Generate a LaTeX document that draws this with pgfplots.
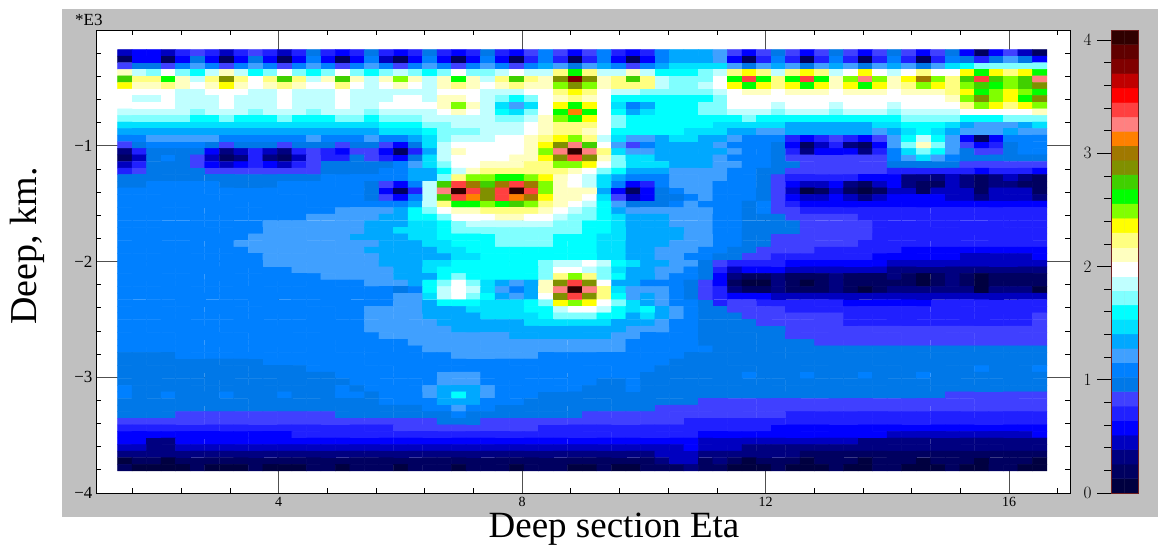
\documentclass[border=0pt]{standalone}
\usepackage{pgfplots}
\usepackage{pgfplotstable}
\usepackage{fontspec}
\setmainfont{Liberation Serif}
\pgfplotsset{compat=1.18}
\definecolor{panel}{RGB}{192,192,192}
\definecolor{gridc}{RGB}{80,80,80}
\definecolor{barb}{RGB}{110,30,30}
\pgfplotsset{colormap={deep}{rgb255=(0,0,64) rgb255=(0,0,96) rgb255=(0,0,128) rgb255=(0,0,192) rgb255=(0,0,255) rgb255=(32,32,255) rgb255=(64,64,255) rgb255=(0,120,232) rgb255=(0,128,255) rgb255=(64,160,255) rgb255=(0,168,255) rgb255=(0,224,255) rgb255=(0,255,255) rgb255=(128,255,255) rgb255=(192,255,255) rgb255=(255,255,255) rgb255=(255,255,192) rgb255=(255,255,128) rgb255=(255,255,0) rgb255=(128,255,0) rgb255=(0,255,0) rgb255=(64,208,0) rgb255=(128,144,0) rgb255=(160,120,0) rgb255=(255,128,0) rgb255=(255,128,128) rgb255=(255,64,64) rgb255=(255,0,0) rgb255=(192,0,0) rgb255=(128,0,0) rgb255=(96,0,0) rgb255=(48,0,0)}}
% one line per depth row, 64 colour levels (0-31) from left to right
\makeatletter
\newtoks\deeptoks
\newcount\rowcnt
\def\rowput#1{\global\deeptoks=\expandafter{\the\deeptoks#1 0\\}\global\advance\rowcnt by 1 }
\def\rowscan#1 {\ifx\relax#1\else\ifnum\rowcnt<64 \rowput{#1}\gdef\rowlast{#1}\fi\expandafter\rowscan\fi}
\def\rowpad{\ifnum\rowcnt<64 \expandafter\rowput\expandafter{\rowlast}\expandafter\rowpad\fi}
\def\rowdata#1{\global\rowcnt=0 \rowscan#1 \relax \rowpad}
\makeatother
\rowdata{3 4 4 3 5 6 5 3 5 6 5 3 5 7 5 4 5 7 5 4 5 7 5 4 5 7 5 4 6 8 6 4 6 8 5 4 5 8 10 10 10 9 6 4 6 7 6 4 6 7 6 4 6 7 6 4 6 7 4 1 4 6 3 1}
\rowdata{1 4 4 1 4 7 4 1 4 7 4 1 4 8 4 1 4 8 3 1 4 8 4 1 4 8 4 1 5 8 5 1 5 8 4 1 4 8 10 10 10 9 4 1 5 8 5 1 5 8 5 1 5 8 5 1 5 8 7 5 7 9 7 4}
\rowdata{6 7 7 6 8 9 8 6 8 9 8 6 8 9 8 6 8 9 8 6 8 9 8 6 8 9 8 6 8 10 9 7 9 10 8 6 8 10 11 11 11 11 9 7 9 10 9 7 9 10 9 7 9 10 9 7 9 11 12 13 13 13 13 13}
\rowdata{16 14 13 15 13 12 14 16 14 12 13 15 13 12 13 15 13 12 13 14 13 12 13 15 13 13 14 15 14 14 17 20 17 14 14 16 14 12 12 12 13 14 17 18 17 14 17 18 17 14 15 18 15 14 15 17 15 15 18 20 18 17 18 20}
\rowdata{21 17 17 20 16 14 17 22 17 15 17 21 17 14 16 21 16 14 16 19 16 14 16 20 16 14 17 21 17 16 22 29 22 16 17 21 17 14 13 13 13 15 20 26 20 17 20 26 20 16 19 25 19 16 18 23 19 17 21 26 21 19 21 25}
\rowdata{18 16 16 17 16 15 16 18 16 15 16 17 16 15 15 17 15 14 15 16 15 14 16 17 16 15 16 17 16 16 19 22 19 16 17 17 17 14 13 13 14 15 18 20 18 17 18 20 18 16 18 20 18 16 17 19 18 17 19 21 20 19 21 22}
\rowdata{15 15 15 15 14 14 15 15 15 14 14 15 14 14 14 15 14 14 14 14 14 14 15 15 15 14 14 14 15 15 17 18 17 15 14 14 13 13 13 13 13 14 15 16 16 15 16 16 16 15 16 16 16 15 16 16 16 17 18 20 19 18 19 20}
\rowdata{15 14 14 15 14 14 14 15 14 14 14 15 14 14 14 15 14 14 14 15 15 14 16 16 15 14 13 12 13 15 16 17 16 15 12 12 12 12 12 12 12 13 15 15 15 15 15 15 15 15 15 15 15 15 15 15 15 16 19 22 19 18 20 22}
\rowdata{15 15 15 15 14 14 14 15 14 14 14 15 14 14 14 15 14 14 15 15 15 15 16 19 16 14 11 9 11 15 18 20 18 15 11 8 10 12 12 12 13 13 15 15 15 14 15 15 15 14 15 15 15 14 15 15 15 15 17 19 18 17 18 19}
\rowdata{14 14 14 14 14 13 14 14 14 13 14 14 14 13 14 14 14 13 14 14 14 14 15 16 15 14 12 11 13 15 20 24 20 15 12 10 11 12 12 12 13 13 14 14 14 13 14 14 14 13 14 14 14 13 14 14 14 14 15 15 15 15 15 16}
\rowdata{13 13 13 13 13 12 12 13 12 12 12 13 12 12 12 13 13 12 13 13 13 14 14 14 14 14 13 13 14 16 19 20 18 15 13 12 12 12 12 12 12 12 12 13 12 12 12 12 12 12 12 12 12 12 13 13 13 13 12 12 12 13 13 13}
\rowdata{11 11 11 11 11 11 11 11 11 11 11 11 11 11 11 11 11 11 12 12 12 13 13 14 14 14 14 14 15 16 17 17 17 15 13 12 12 12 12 12 12 11 11 11 11 11 10 10 10 10 10 10 11 11 12 12 12 11 10 9 9 9 10 11}
\rowdata{10 10 10 10 10 10 10 10 10 10 10 10 10 10 10 10 10 10 11 11 11 12 13 13 13 14 14 14 15 16 17 17 16 15 12 12 12 12 12 11 11 11 10 10 9 9 10 10 10 10 10 10 9 10 11 12 11 10 9 9 9 10 9 9}
\rowdata{8 8 9 9 9 9 9 8 8 8 8 8 8 9 8 8 8 9 8 8 10 11 13 14 14 14 15 15 16 17 18 19 17 14 11 9 9 10 11 11 10 10 9 8 8 8 5 4 5 6 5 4 6 9 12 14 12 9 4 1 4 8 8 8}
\rowdata{6 7 8 8 8 8 7 6 7 7 7 6 7 7 7 6 7 7 6 4 7 11 14 15 15 15 15 15 16 18 22 25 21 15 9 6 8 10 10 10 10 9 8 8 8 7 4 1 3 5 2 1 4 9 13 16 13 9 6 4 5 7 8 8}
\rowdata{2 5 7 7 7 7 4 2 3 5 3 2 5 6 5 4 6 6 4 1 5 10 14 16 15 15 15 15 16 19 25 31 25 17 11 9 9 10 10 10 10 10 9 8 8 7 5 2 4 4 4 2 5 8 11 13 12 9 7 6 6 7 8 8}
\rowdata{1 3 7 8 7 6 3 1 2 5 2 1 3 6 5 5 7 6 5 4 7 11 14 15 15 15 15 16 16 18 22 26 22 16 13 11 11 10 10 10 10 9 8 8 8 7 6 6 6 6 6 6 6 8 9 11 9 8 7 7 7 7 7 7}
\rowdata{3 5 7 7 7 6 4 3 4 5 4 3 5 6 7 7 7 7 7 8 9 11 13 15 15 16 16 16 17 17 19 19 18 15 13 11 11 11 10 10 10 9 9 8 8 7 7 6 6 6 6 6 6 7 7 7 7 7 6 6 6 6 6 6}
\rowdata{5 6 7 7 7 7 6 6 6 6 6 6 6 6 7 7 7 7 8 8 10 10 12 14 16 17 17 17 17 17 17 16 15 13 12 10 10 10 9 9 9 9 8 8 7 7 6 6 6 6 6 6 6 5 5 5 5 5 5 4 5 5 5 4}
\rowdata{7 7 7 7 7 7 7 7 7 7 7 7 7 7 8 8 8 8 8 8 10 10 13 17 19 19 20 20 19 18 16 15 14 11 10 8 8 8 9 9 9 9 8 8 7 6 5 5 5 5 5 4 4 4 2 2 2 3 2 1 2 3 2 1}
\rowdata{7 7 8 8 8 8 8 7 7 7 7 8 8 8 8 8 8 7 6 4 8 14 21 26 23 21 23 26 23 19 16 15 14 11 8 4 5 8 9 9 9 8 8 8 7 6 4 3 3 4 2 1 3 4 2 1 1 3 2 1 2 2 1 1}
\rowdata{8 8 8 8 8 8 8 8 8 8 8 8 8 8 8 8 8 7 4 1 5 14 25 31 26 22 26 31 26 19 16 16 16 10 4 1 4 7 8 9 9 8 8 8 7 6 3 0 1 3 1 0 1 3 3 1 3 3 3 1 3 3 3 1}
\rowdata{8 8 8 8 8 8 8 8 8 8 8 8 8 8 8 8 8 7 6 4 8 14 21 26 24 22 26 24 23 18 16 16 15 11 6 3 4 7 7 8 9 8 8 8 7 6 4 3 3 4 3 2 3 4 4 4 4 3 3 2 3 3 3 2}
\rowdata{8 8 8 8 8 8 8 8 8 8 8 8 8 8 8 8 8 8 8 8 10 14 17 20 20 19 20 21 19 17 16 15 14 12 9 7 7 7 8 9 8 8 8 7 8 6 5 4 4 4 4 4 4 4 4 4 4 4 4 4 4 4 4 4}
\rowdata{8 8 8 8 8 8 8 8 8 8 8 8 8 8 8 9 9 9 9 10 12 13 15 16 16 17 17 17 17 16 15 14 13 12 10 9 9 9 9 9 9 8 8 7 8 6 6 5 5 5 5 5 5 5 5 5 5 5 5 5 5 5 5 5}
\rowdata{8 8 8 8 8 8 8 8 8 8 8 8 8 9 9 9 9 9 10 10 12 12 13 15 15 15 16 16 15 15 14 13 13 12 11 10 10 10 9 9 9 8 8 7 7 7 6 6 6 6 6 5 5 5 5 5 5 5 5 5 5 5 5 5}
\rowdata{8 8 8 8 8 8 8 8 8 8 9 9 9 9 9 9 9 10 10 10 11 11 12 13 14 14 14 14 14 14 13 13 12 12 11 10 10 10 9 9 9 8 8 7 7 7 7 6 6 6 6 6 5 5 5 5 5 5 5 5 5 5 5 5}
\rowdata{8 8 8 8 8 8 8 8 8 8 9 9 9 9 9 9 9 10 10 11 11 11 12 13 13 13 13 13 13 13 13 13 12 12 11 10 10 10 10 9 9 8 8 7 7 7 7 6 6 6 6 6 5 5 5 5 5 5 5 5 5 5 5 5}
\rowdata{8 8 8 8 8 8 8 8 8 9 9 9 9 9 9 9 10 10 10 10 11 11 12 12 12 12 13 13 13 13 12 12 12 11 11 10 10 10 10 9 9 8 8 7 7 6 6 6 6 6 6 6 5 5 5 5 5 5 5 5 5 5 5 5}
\rowdata{8 8 8 8 8 8 8 8 9 9 9 9 9 9 9 9 9 9 10 10 10 11 11 12 12 12 13 13 13 13 12 12 12 11 11 10 10 10 9 9 9 8 8 7 7 6 6 6 6 6 6 5 5 5 5 5 5 5 5 5 5 5 5 5}
\rowdata{8 8 8 8 8 8 8 8 8 9 9 9 9 9 9 9 9 10 10 10 10 10 11 11 12 12 12 12 12 12 12 12 12 11 11 10 10 9 9 9 8 8 7 7 6 6 6 6 5 5 5 5 5 5 4 4 4 4 4 4 4 4 4 4}
\rowdata{8 8 8 8 8 8 8 8 8 8 9 9 9 9 9 9 9 9 10 10 10 10 10 11 11 12 12 12 12 12 12 12 12 11 11 10 10 9 9 8 8 7 7 6 6 5 5 5 5 5 5 5 4 4 4 4 4 4 3 3 3 3 3 4}
\rowdata{8 8 8 8 8 8 8 8 8 8 9 9 9 9 9 9 9 9 10 10 10 11 11 12 12 12 12 12 12 13 14 14 15 14 12 11 10 10 9 9 7 6 5 5 5 5 4 4 4 4 4 4 4 3 3 3 3 3 3 3 3 3 3 3}
\rowdata{8 8 8 8 8 8 8 8 8 8 8 8 9 9 9 9 9 9 9 10 10 11 12 12 12 12 12 12 12 13 15 15 14 13 11 10 10 9 9 8 7 5 3 4 4 4 3 3 3 3 3 3 3 2 2 2 2 2 2 2 2 2 2 2}
\rowdata{8 8 8 8 8 8 8 8 8 8 8 8 8 8 9 9 9 9 9 10 10 10 12 13 12 12 12 12 12 13 17 19 17 13 12 10 10 9 8 8 7 4 2 1 1 2 1 1 1 2 1 1 1 2 1 0 1 2 1 0 1 1 1 1}
\rowdata{8 8 8 8 8 8 8 8 8 8 8 8 8 8 8 8 8 9 9 9 10 12 13 15 13 11 10 9 10 16 22 26 22 15 10 10 8 8 8 7 6 4 1 0 0 2 1 0 1 2 1 1 1 1 1 0 1 2 1 0 1 1 1 1}
\rowdata{8 8 8 8 8 8 8 8 8 8 8 8 8 8 8 8 8 8 8 7 8 12 14 15 14 11 9 8 10 16 25 31 25 17 11 9 9 9 8 7 6 5 2 1 1 2 1 1 1 2 1 0 1 2 2 2 2 2 2 0 2 2 2 0}
\rowdata{8 8 8 8 8 8 8 8 8 8 8 8 8 8 8 8 8 8 8 9 9 11 14 15 13 12 10 9 10 15 22 26 22 17 12 9 10 9 8 7 6 5 4 4 4 3 3 3 3 3 3 3 3 3 3 3 3 3 3 3 3 3 3 3}
\rowdata{8 8 8 8 8 8 8 8 8 8 8 8 8 8 8 8 8 8 8 9 9 10 12 12 12 11 11 11 12 13 18 19 18 15 13 11 10 9 8 8 7 5 6 6 5 5 5 5 5 5 4 4 4 4 4 4 5 5 5 5 5 5 5 5}
\rowdata{8 8 8 8 8 8 8 8 8 8 8 8 8 8 8 8 8 9 9 9 9 10 10 10 11 11 11 11 12 12 14 15 15 14 12 11 12 10 9 8 7 7 6 6 6 6 5 5 5 5 5 5 5 5 5 5 5 5 5 5 5 5 5 5}
\rowdata{8 8 8 8 8 8 8 8 8 8 8 8 8 8 8 8 8 9 9 9 9 10 10 10 10 11 11 11 11 12 13 13 13 12 12 10 11 10 9 8 7 7 7 6 6 6 6 6 6 6 5 5 5 5 5 5 5 5 5 5 5 5 5 6}
\rowdata{8 8 8 8 8 8 8 8 8 8 8 8 8 8 8 8 8 9 9 9 9 9 10 10 10 10 10 10 11 11 11 11 11 11 10 10 10 9 8 8 7 7 7 7 6 6 6 6 6 6 5 5 5 5 5 5 5 5 5 5 5 5 5 6}
\rowdata{8 8 8 8 8 8 8 8 8 8 8 8 8 8 8 8 8 9 9 9 9 9 9 10 10 10 10 10 10 10 10 10 10 10 10 9 9 9 8 8 7 7 7 7 7 7 6 6 6 6 6 6 6 6 6 6 6 6 6 6 6 6 6 6}
\rowdata{8 8 8 8 8 8 8 8 8 8 8 8 8 8 8 8 8 8 9 9 9 9 9 9 9 9 9 10 10 10 10 10 10 10 9 9 8 8 8 8 7 7 7 7 7 7 6 6 6 6 6 6 6 6 6 6 6 6 6 6 6 6 6 6}
\rowdata{8 8 8 8 8 8 8 8 8 8 8 8 8 8 8 8 8 8 8 8 9 9 9 9 9 9 9 9 9 9 9 9 9 9 9 8 8 8 8 8 7 7 7 7 7 7 7 7 6 6 6 6 6 6 6 6 6 6 6 6 6 6 6 6}
\rowdata{8 8 8 8 8 8 8 8 8 8 8 8 8 8 8 8 8 8 8 8 8 9 9 9 9 9 9 9 9 9 9 9 9 9 9 8 8 8 8 8 8 7 7 7 7 7 7 7 7 7 7 7 7 7 7 7 7 7 7 7 7 7 7 7}
\rowdata{7 7 7 7 8 8 8 8 8 8 8 8 8 8 8 8 8 8 8 8 8 8 8 9 9 9 9 9 9 8 8 8 8 8 8 8 8 8 8 7 7 7 7 7 7 7 7 7 7 7 7 7 7 7 7 7 7 7 7 7 7 7 7 7}
\rowdata{7 7 7 7 7 7 7 7 7 7 8 8 8 8 8 8 8 8 8 8 8 8 8 8 8 8 8 8 8 8 8 8 8 8 8 8 8 8 7 7 7 7 7 7 7 7 7 7 7 7 7 7 7 7 7 7 7 7 7 7 7 7 7 7}
\rowdata{7 7 7 7 7 7 7 7 7 7 7 7 7 8 8 8 8 8 8 8 8 8 8 8 8 8 8 8 8 8 8 8 8 8 8 8 8 7 7 7 7 7 7 7 7 7 7 7 7 7 7 7 7 7 7 7 7 7 7 8 7 7 7 8}
\rowdata{7 7 7 7 7 7 7 7 7 7 7 7 7 7 7 8 8 8 8 8 8 8 9 9 9 8 8 8 8 8 8 8 8 8 8 8 7 7 7 7 7 7 7 8 7 7 7 8 7 7 7 8 7 7 7 8 7 7 7 7 7 7 7 7}
\rowdata{7 7 7 7 7 7 7 7 7 7 7 7 7 7 7 7 8 8 8 8 8 8 9 9 9 8 8 8 8 8 8 8 8 7 7 8 7 7 7 7 7 7 7 7 7 7 7 7 7 7 7 7 7 7 7 7 7 7 7 7 7 7 7 7}
\rowdata{8 7 7 7 7 7 7 7 7 7 7 7 7 7 7 8 7 8 8 8 8 9 10 10 10 9 8 8 8 8 8 8 7 7 7 8 7 7 7 7 7 7 7 7 7 7 7 7 7 7 7 7 7 7 7 7 7 7 7 7 7 7 7 7}
\rowdata{8 7 7 8 7 7 7 8 7 7 7 8 7 7 7 8 8 7 8 8 8 9 10 12 10 9 8 8 8 7 7 7 7 7 7 7 7 7 7 7 7 7 7 7 7 7 7 7 7 7 7 7 7 7 7 7 7 6 6 6 6 6 6 6}
\rowdata{7 7 7 7 7 7 7 7 7 7 7 7 7 7 7 7 7 7 8 8 8 8 10 10 10 8 8 8 7 7 7 7 7 7 7 7 7 7 7 7 6 6 6 6 6 6 6 6 6 6 6 6 6 6 6 6 6 6 6 6 6 6 6 6}
\rowdata{7 7 7 7 7 7 7 7 7 7 7 7 7 7 7 7 7 7 7 7 7 8 8 9 8 8 7 7 7 7 7 7 7 7 7 7 7 6 6 6 6 6 6 6 6 6 6 6 6 6 6 6 6 6 6 6 6 6 6 6 6 6 6 6}
\rowdata{7 7 7 7 6 6 6 6 6 6 6 6 6 6 6 7 7 7 7 7 7 7 7 8 7 7 7 7 7 7 7 7 6 6 6 6 6 6 6 6 6 6 6 6 6 6 5 5 5 5 5 5 5 5 5 5 5 5 5 5 5 5 5 5}
\rowdata{6 6 6 6 6 6 6 6 6 6 6 6 6 6 6 6 6 6 6 6 6 6 7 7 7 6 6 6 6 6 6 6 6 6 6 6 6 6 6 5 5 5 5 5 5 5 5 5 5 5 5 5 5 5 5 5 5 5 5 5 5 5 5 5}
\rowdata{5 5 5 5 5 5 5 5 5 5 5 5 5 5 5 5 5 5 5 6 6 6 6 6 6 6 6 6 6 5 5 5 5 5 5 5 5 5 5 5 5 5 5 5 5 4 4 4 4 4 4 4 4 4 4 4 4 4 4 4 4 4 4 4}
\rowdata{4 4 4 4 4 4 4 4 4 4 4 4 5 5 5 5 5 5 5 5 5 5 5 5 5 5 5 5 5 5 5 5 5 5 5 5 5 5 5 5 4 4 4 4 4 4 4 4 4 4 4 4 4 3 3 3 3 3 3 3 3 3 3 4}
\rowdata{4 4 2 2 4 4 4 4 4 4 4 4 4 4 4 4 4 4 4 4 4 4 4 4 4 4 4 4 4 4 4 4 4 4 4 4 4 4 4 4 3 3 3 3 3 3 3 3 3 3 3 2 2 2 2 2 2 2 2 2 2 2 2 2}
\rowdata{3 3 2 2 3 3 3 3 3 3 3 3 3 3 3 3 3 3 3 3 3 3 3 3 3 3 3 3 3 3 3 3 3 3 3 3 3 3 3 4 3 3 3 2 2 2 2 2 2 2 2 2 2 2 2 2 2 2 2 2 2 2 2 2}
\rowdata{2 2 2 2 2 2 2 2 2 2 2 2 2 2 2 2 2 2 2 2 2 2 2 2 2 2 2 2 2 2 2 2 2 2 2 2 2 3 3 3 2 2 2 2 2 2 2 1 1 1 1 1 1 1 1 1 1 1 1 1 1 1 1 1}
\rowdata{0 1 1 0 1 1 1 1 1 1 1 1 1 1 1 1 1 1 1 1 1 1 1 1 1 1 1 1 1 1 1 1 1 1 1 1 1 2 3 3 1 2 1 0 1 1 1 0 1 1 1 0 1 1 1 0 1 1 1 0 1 1 1 0}
\rowdata{1 0 0 0 0 1 0 0 0 1 0 0 0 1 1 0 1 1 1 0 1 1 1 0 1 1 1 0 1 1 1 0 0 1 0 0 1 1 1 2 1 1 0 0 0 1 0 0 0 1 0 0 1 1 0 0 0 1 0 0 1 1 0 0}
\edef\deepread{\noexpand\pgfplotstableread[row sep=crcr]{z d\noexpand\\\the\deeptoks}\noexpand\deeptab}
\deepread
\begin{document}
\begin{tikzpicture}[x=1pt,y=1pt]
\path[use as bounding box] (0,0) rectangle (1158,-547);
\fill[panel] (62,-9) rectangle (1158,-517);
\begin{axis}[at={(96pt,-493pt)},anchor=south west,width=974pt,height=463pt,scale only axis,
 xmin=1,xmax=17,ymin=-4,ymax=0,
 axis background/.style={fill=white},
 colormap name=deep,colormap access=piecewise constant,point meta min=0,point meta max=4.09,
 xtick={4,8,12,16},xticklabels={4,8,12,16},
 ytick={-4,-3,-2,-1},yticklabels={−4,−3,−2,−1},
 minor xtick={1.6,2.4,3.2,4.8,5.6,6.4,7.2,8.8,9.6,10.4,11.2,12.8,13.6,14.4,15.2,16.8},
 minor ytick={-3.8,-3.6,-3.4,-3.2,-2.8,-2.6,-2.4,-2.2,-1.8,-1.6,-1.4,-1.2,-0.8,-0.6,-0.4,-0.2},
 tick align=inside,major tick length=0pt,minor tick length=5pt,
 tick style={black,line width=0.8pt},
 grid=major,major grid style={gridc,line width=1pt},
 axis line style={black,line width=1pt},
 xticklabel style={font=\fontsize{14}{14}\selectfont,yshift=-1pt},
 yticklabel style={font=\fontsize{17}{17}\selectfont},
]
\addplot[matrix plot*,mesh/cols=64,point meta=explicit] table[
 x expr={1.355+0.238516*(\coordindex-64*floor((\coordindex+0.5)/64)+0.5)},
 y expr={-0.169-0.056875*(floor((\coordindex+0.5)/64)+0.5)},
 meta expr={(\thisrow{z}+0.5)*0.1278125}] {\deeptab};
\end{axis}
\begin{axis}[at={(1111pt,-493pt)},anchor=south west,width=27pt,height=463pt,scale only axis,
 xmin=-0.5,xmax=1.5,ymin=0,ymax=4.09,
 colormap name=deep,colormap access=piecewise constant,point meta min=0,point meta max=4.09,
 xtick=\empty,ytick={0,1,2,3,4},
 minor ytick={0.2,0.4,0.6,0.8,1.2,1.4,1.6,1.8,2.2,2.4,2.6,2.8,3.2,3.4,3.6,3.8},
 tick align=outside,ytick pos=left,major tick length=14pt,minor tick length=7pt,
 tick style={black,line width=0.8pt},
 axis line style={barb,line width=1pt},axis on top,
 yticklabel style={font=\fontsize{17}{17}\selectfont,xshift=-2pt},
]
\addplot[matrix plot*,mesh/cols=2,point meta=explicit] table[row sep=crcr,
 x expr={\coordindex-2*floor((\coordindex+0.5)/2)},
 y expr={(floor((\coordindex+0.5)/2)+0.5)*0.1278125},
 meta expr={(\thisrow{z}+0.5)*0.1278125}] {z\\0\\0\\1\\1\\2\\2\\3\\3\\4\\4\\5\\5\\6\\6\\7\\7\\8\\8\\9\\9\\10\\10\\11\\11\\12\\12\\13\\13\\14\\14\\15\\15\\16\\16\\17\\17\\18\\18\\19\\19\\20\\20\\21\\21\\22\\22\\23\\23\\24\\24\\25\\25\\26\\26\\27\\27\\28\\28\\29\\29\\30\\30\\31\\31\\};
\end{axis}
\node[anchor=west,font=\fontsize{17}{17}\selectfont,inner sep=0pt] at (75,-20) {*E3};
\node[anchor=base,font=\fontsize{37}{37}\selectfont,inner sep=0pt] at (614,-537) {Deep section Eta};
\node[anchor=base,rotate=90,font=\fontsize{38}{38}\selectfont,inner sep=0pt] at (36,-246) {Deep, km.};
\end{tikzpicture}
\end{document}
